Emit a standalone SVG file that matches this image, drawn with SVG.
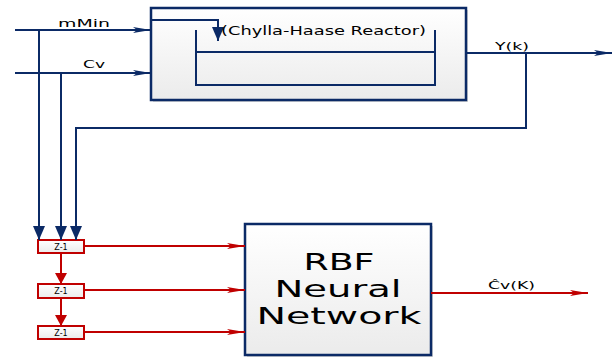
<svg xmlns="http://www.w3.org/2000/svg" width="613" height="358" viewBox="0 0 613 358">
<style>
.nv{stroke:#0b2a66;stroke-width:2;fill:none}
.rd{stroke:#c00000;stroke-width:2;fill:none}
.lbl{font-family:"DejaVu Sans",Verdana,sans-serif;fill:#000}
</style>
<defs>
<linearGradient id="g" x1="0" y1="0" x2="0" y2="1">
<stop offset="0" stop-color="#ffffff"/>
<stop offset="1" stop-color="#ebebeb"/>
</linearGradient>
<marker id="an" markerWidth="18" markerHeight="8" refX="18" refY="4" orient="auto" markerUnits="userSpaceOnUse">
<path d="M0,1 L18,4 L0,7 L4,4 Z" fill="#0b2a66"/>
</marker>
<marker id="ad" markerWidth="14" markerHeight="12" refX="14" refY="6" orient="auto" markerUnits="userSpaceOnUse">
<path d="M0,0 L14,6 L0,12 Z" fill="#0b2a66"/>
</marker>
<marker id="ar" markerWidth="18" markerHeight="8" refX="18" refY="4" orient="auto" markerUnits="userSpaceOnUse">
<path d="M0,1 L18,4 L0,7 L4,4 Z" fill="#c00000"/>
</marker>
<marker id="ard" markerWidth="12" markerHeight="12" refX="11" refY="6" orient="auto" markerUnits="userSpaceOnUse">
<path d="M0,0 L11,6 L0,12 Z" fill="#c00000"/>
</marker>
</defs>
<rect width="613" height="358" fill="#fff"/>

<g id="reactor">
<rect x="153" y="10" width="315" height="92" fill="#d8d8d8"/>
<rect x="151" y="8" width="315" height="92" fill="url(#g)" stroke="#0b2a66" stroke-width="2.5"/>
<path class="nv" d="M196,30 V85 H435 V30 M196,52 H435"/>
<path class="nv" d="M151,20 H218 V41" marker-end="url(#ad)"/>
<text class="lbl" x="221" y="35" font-size="11.5" textLength="205" lengthAdjust="spacingAndGlyphs">(Chylla-Haase Reactor)</text>
</g>

<g id="rbf">
<rect x="247" y="226" width="186" height="131" fill="#d8d8d8"/>
<rect x="245" y="224" width="186" height="131" fill="url(#g)" stroke="#0b2a66" stroke-width="2.5"/>
<text class="lbl" x="339" y="270" font-size="23" text-anchor="middle" textLength="71" lengthAdjust="spacingAndGlyphs">RBF</text>
<text class="lbl" x="338" y="297" font-size="23" text-anchor="middle" textLength="127" lengthAdjust="spacingAndGlyphs">Neural</text>
<text class="lbl" x="339" y="324" font-size="23" text-anchor="middle" textLength="165" lengthAdjust="spacingAndGlyphs">Network</text>
</g>

<g id="z1">
<rect x="38" y="240" width="46" height="13" fill="url(#g)" stroke="#c00000" stroke-width="2"/>
<text class="lbl" x="61" y="250" font-size="8" text-anchor="middle">Z-1</text>
</g>
<g id="z2">
<rect x="38" y="284" width="46" height="14" fill="url(#g)" stroke="#c00000" stroke-width="2"/>
<text class="lbl" x="61" y="294" font-size="8" text-anchor="middle">Z-1</text>
</g>
<g id="z3">
<rect x="38" y="326" width="46" height="13" fill="url(#g)" stroke="#c00000" stroke-width="2"/>
<text class="lbl" x="61" y="336" font-size="8" text-anchor="middle">Z-1</text>
</g>

<g id="connectors">
<path class="nv" d="M15,30 H151" marker-end="url(#an)"/>
<path class="nv" d="M15,73 H151" marker-end="url(#an)"/>
<path class="nv" d="M466,53 H612" marker-end="url(#an)"/>
<path class="nv" d="M39,30 V240" marker-end="url(#ad)"/>
<path class="nv" d="M61,73 V240" marker-end="url(#ad)"/>
<path class="nv" d="M526,53 V128 H76 V240" marker-end="url(#ad)"/>
<path class="rd" d="M61,253 V284" marker-end="url(#ard)"/>
<path class="rd" d="M61,298 V326" marker-end="url(#ard)"/>
<path class="rd" d="M84,246 H245" marker-end="url(#ar)"/>
<path class="rd" d="M84,290 H245" marker-end="url(#ar)"/>
<path class="rd" d="M84,332 H245" marker-end="url(#ar)"/>
<path class="rd" d="M431,293 H588" marker-end="url(#ar)"/>
</g>

<g id="labels">
<text class="lbl" x="58" y="27" font-size="11" textLength="52" lengthAdjust="spacingAndGlyphs">mMin</text>
<text class="lbl" x="83" y="68" font-size="11" textLength="22" lengthAdjust="spacingAndGlyphs">Cv</text>
<text class="lbl" x="495" y="50" font-size="11" textLength="34" lengthAdjust="spacingAndGlyphs">Y(k)</text>
<text class="lbl" x="488" y="289" font-size="11" textLength="47" lengthAdjust="spacingAndGlyphs">Ĉv(K)</text>
</g>
</svg>
